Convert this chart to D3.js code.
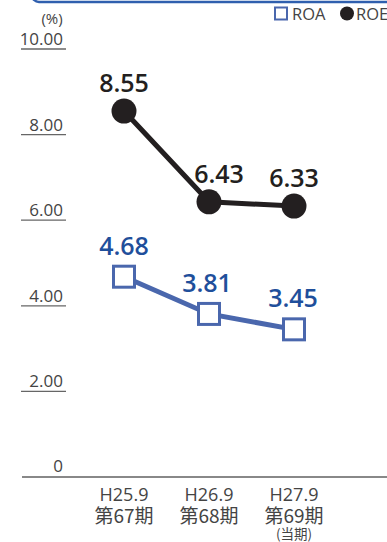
<!DOCTYPE html>
<html>
<head>
<meta charset="utf-8">
<script src="https://cdn.jsdelivr.net/npm/d3@7/dist/d3.min.js"></script>
<style>
  html, body { margin: 0; padding: 0; background: #fff; }
  svg { display: block; }
</style>
</head>
<body>
<svg id="chart" width="387" height="542"></svg>
<script>
// Fiscal periods on the x axis
const periods = ["H25.9", "H26.9", "H27.9"];
const periodNames = ["第67期", "第68期", "第69期"];
const periodNotes = ["", "", "(当期)"];
// Return on equity / return on assets, percent
const roe = [8.55, 6.43, 6.33];
const roa = [4.68, 3.81, 3.45];
// Y axis ticks
const yTicks = [0, 2, 4, 6, 8, 10];

const svg = d3.select("#chart");
const font = "'Open Sans', 'Noto Sans CJK JP', sans-serif";
const cjk = "'Noto Sans CJK JP', sans-serif";
const black = "#231f20";
const blueLine = "#4a67ad";
const blueText = "#1f4f9b";
const grey = "#444";

const x = d3.scalePoint().domain(periods).range([124, 294]);
const y = d3.scaleLinear().domain([0, 10]).range([477, 49]);

// Frame edge at the top
svg.append("rect")
  .attr("x", 32).attr("y", -30).attr("width", 380).attr("height", 32)
  .attr("rx", 7).attr("fill", "none")
  .attr("stroke", "#2f5fae").attr("stroke-width", 2.5);

// Y axis: labels sitting on short rules
const yAxis = svg.append("g");
yTicks.forEach(t => {
  if (t > 0) {
    yAxis.append("line")
      .attr("x1", 21).attr("x2", 66)
      .attr("y1", y(t)).attr("y2", y(t))
      .attr("stroke", "#666").attr("stroke-width", 1.3);
  }
  yAxis.append("text")
    .attr("x", 63).attr("y", y(t) - (t > 0 ? 4 : 5))
    .attr("text-anchor", "end")
    .attr("font-family", font).attr("font-size", 17)
    .attr("fill", grey)
    .text(t === 0 ? "0" : d3.format(".2f")(t));
});
svg.append("text")
  .attr("x", 52).attr("y", 24).attr("text-anchor", "middle")
  .attr("font-family", font).attr("font-size", 15).attr("fill", grey)
  .text("(%)");

// Baseline
svg.append("line")
  .attr("x1", 22).attr("x2", 387).attr("y1", y(0)).attr("y2", y(0))
  .attr("stroke", "#888").attr("stroke-width", 2);

// X axis labels: one stacked text block per period
periods.forEach((p, i) => {
  const cx = x(p);
  const t = svg.append("text").attr("text-anchor", "middle").attr("fill", grey);
  t.append("tspan").attr("x", cx).attr("y", 501)
    .attr("font-family", font).attr("font-size", 18).text(p);
  t.append("tspan").attr("x", cx).attr("y", 523)
    .attr("font-family", cjk).attr("font-size", 19).text(periodNames[i]);
  if (periodNotes[i]) {
    t.append("tspan").attr("x", cx).attr("y", 538.5)
      .attr("font-family", cjk).attr("font-size", 13.5).text(periodNotes[i]);
  }
});

const line = d3.line().x((d, i) => x(periods[i])).y(d => y(d));

// ROE series
svg.append("path").datum(roe).attr("d", line)
  .attr("fill", "none").attr("stroke", black).attr("stroke-width", 5);
svg.selectAll(".roe-dot").data(roe).enter().append("circle")
  .attr("cx", (d, i) => x(periods[i])).attr("cy", d => y(d))
  .attr("r", 12.5).attr("fill", black);
const roeDx = [0, 10, 0];
svg.selectAll(".roe-lbl").data(roe).enter().append("text")
  .attr("x", (d, i) => x(periods[i]) + roeDx[i]).attr("y", d => y(d) - 19)
  .attr("text-anchor", "middle")
  .attr("font-family", font).attr("font-size", 25).attr("font-weight", 600)
  .attr("fill", black).text(d => d3.format(".2f")(d));

// ROA series
svg.append("path").datum(roa).attr("d", line)
  .attr("fill", "none").attr("stroke", blueLine).attr("stroke-width", 5);
svg.selectAll(".roa-sq").data(roa).enter().append("rect")
  .attr("x", (d, i) => x(periods[i]) - 10.5).attr("y", d => y(d) - 10.5)
  .attr("width", 21).attr("height", 21)
  .attr("fill", "#fff").attr("stroke", blueLine).attr("stroke-width", 3);
const roaDx = [0, -2, -1];
svg.selectAll(".roa-lbl").data(roa).enter().append("text")
  .attr("x", (d, i) => x(periods[i]) + roaDx[i]).attr("y", d => y(d) - 22)
  .attr("text-anchor", "middle")
  .attr("font-family", font).attr("font-size", 25).attr("font-weight", 600)
  .attr("fill", blueText).text(d => d3.format(".2f")(d));

// Legend
const lg = svg.append("g");
lg.append("rect").attr("x", 275).attr("y", 7.5).attr("width", 12).attr("height", 12)
  .attr("fill", "#fff").attr("stroke", blueLine).attr("stroke-width", 2);
lg.append("text").attr("x", 292).attr("y", 20)
  .attr("font-family", font).attr("font-size", 16.5).attr("fill", grey).text("ROA");
lg.append("circle").attr("cx", 347).attr("cy", 13.5).attr("r", 7).attr("fill", black);
lg.append("text").attr("x", 356).attr("y", 20)
  .attr("font-family", font).attr("font-size", 16.5).attr("fill", grey).text("ROE");
</script>
</body>
</html>
